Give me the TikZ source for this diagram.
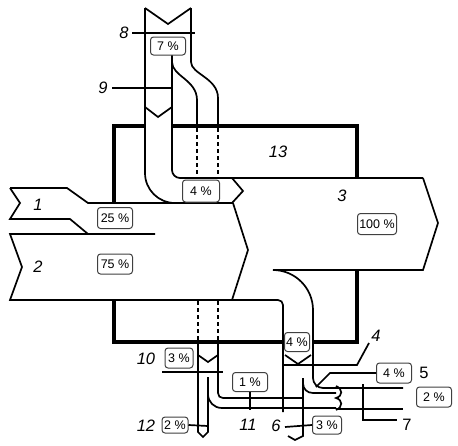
\documentclass[tikz,border=0pt]{standalone}
\usepackage{fontspec}
\setmainfont{Liberation Sans}
\begin{document}
\begin{tikzpicture}[x=1pt,y=-1pt,
  flow/.style={line width=1.7pt, line join=miter},
  wall/.style={line width=4pt, line join=miter},
  dashline/.style={line width=1.1pt, dash pattern=on 4pt off 3pt},
  pct/.style={draw=black!75, rounded corners=3pt, fill=white, line width=1pt,
    font=\fontsize{12.5}{12.5}\selectfont, inner sep=0pt},
  num/.style={font=\fontsize{16.5}{16.5}\selectfont\itshape},
  numu/.style={font=\fontsize{16.5}{16.5}\selectfont}
]
\useasboundingbox (0,0) rectangle (458,445);

% system boundary 13
\draw[wall] (114,203) -- (114,126) -- (145,126);
\draw[wall] (172,126) -- (357,126) -- (357,178);
\draw[wall] (357,270) -- (357,342) -- (313,342);
\draw[wall] (283,342) -- (114,342) -- (114,300);

% flow 1
\draw[flow] (10,188) -- (67,188) -- (88,203) -- (233,203);
\draw[flow] (10,188) -- (20,203) -- (10,219) -- (70,219) -- (88,234);
% flow 2
\draw[flow] (155,234) -- (10,234) -- (22,267) -- (10,300) -- (278,300)
  .. controls (280.8,300) and (283,302.2) .. (283,305) -- (283,412);
% combined tip
\draw[flow] (233,203) -- (248,250) -- (232,300);

% flow 8 / 9 / 4 % return
\draw[flow] (145,8) -- (168,24) -- (191,8);
\draw[flow] (145,8) -- (145,173) .. controls (145,189.6) and (158.4,203) .. (175,203);
\draw[flow] (172,55) -- (172,170) .. controls (172,174.4) and (175.6,178) .. (180,178) -- (423,178);
\draw[flow] (232,178) -- (243,191) -- (232,203);
\draw[flow] (172,62) .. controls (172,76) and (197,80) .. (197,100) -- (197,126);
\draw[flow] (191,8) -- (191,62) .. controls (191,74) and (218,78) .. (218,98) -- (218,126);
\draw[flow] (145,107) -- (158,117) -- (172,107);
\draw[dashline] (197,128) -- (197,177);
\draw[dashline] (218,128) -- (218,177);

% flow 3
\draw[flow] (423,178) -- (438,223) -- (423,270) -- (273,270)
  .. controls (295,270) and (313,288) .. (313,310) -- (313,378)
  .. controls (313,383.5) and (317.5,388) .. (323,388) -- (403,388);

% flows 10, 11, 12
\draw[dashline] (198,301) -- (198,340);
\draw[dashline] (218,301) -- (218,340);
\draw[flow] (198,342) -- (198,432) -- (203,437) -- (208,432) -- (208,377);
\draw[flow] (198,355) -- (208,362) -- (218,355);
\draw[flow] (218,342) -- (218,393) .. controls (218,396) and (220,398) .. (223,398) -- (303,398);
\draw[flow] (208,394) .. controls (208,402) and (214,408) .. (222,408) -- (336,408);

% outflow 4 and branches 5, 6, 7
\draw[flow] (285,355) -- (298,364) -- (311,355);
\draw[flow] (303,378) -- (303,436) -- (295,440) -- (288,436);
\draw[flow] (303,383) .. controls (303,389) and (307,393) .. (313,393) -- (336,393);
\draw[flow] (336,386) .. controls (343,389) and (343,396) .. (336,398)
  .. controls (343,400) and (343,407) .. (336,410);
\draw[flow] (336,409) -- (403,409);

% boxes
\node[pct, minimum width=35pt, minimum height=18pt] (b7) at (168,46) {7 \%};
\node[pct, minimum width=35pt, minimum height=21pt] (b25) at (115,218) {25 \%};
\node[pct, minimum width=35pt, minimum height=20pt] (b75) at (115,264) {75 \%};
\node[pct, minimum width=37pt, minimum height=22pt] (b4a) at (201,191) {4 \%};
\node[pct, minimum width=39pt, minimum height=21pt] (b100) at (377,224) {100 \%};
\node[pct, minimum width=28pt, minimum height=20pt] (b3) at (179,358) {3 \%};
\node[pct, minimum width=26pt, minimum height=16pt] (b2) at (175,425) {2 \%};
\node[pct, minimum width=35pt, minimum height=19pt] (b1) at (250,382) {1 \%};
\node[pct, minimum width=25pt, minimum height=19pt] (b4b) at (297,342) {4 \%};
\node[pct, minimum width=35pt, minimum height=20pt] (b4c) at (394,373) {4 \%};
\node[pct, minimum width=35pt, minimum height=20pt] (b2b) at (434,397) {2 \%};
\node[pct, minimum width=29pt, minimum height=18pt] (b3b) at (327,425) {3 \%};

% labels
\node[num] (l8) at (124,33) {8};
\node[num] (l9) at (103,88) {9};
\node[num] (l1) at (38,205) {1};
\node[num] (l2) at (38,267) {2};
\node[num] (l3) at (342,196) {3};
\node[num] (l13) at (278,152) {13};
\node[num] (l4) at (376,336) {4};
\node[numu] (l5) at (424,373) {5};
\node[num] (l10) at (146,359) {10};
\node[num] (l11) at (248,425) {11};
\node[num] (l12) at (146,426) {12};
\node[num] (l6) at (276,426) {6};
\node[numu] (l7) at (407,425) {7};

% leader lines
\coordinate (e8) at (195,33);
\coordinate (e9) at (173,88);
\coordinate (e10) at (223,372);
\coordinate (e12) at (208,426);
\coordinate (e11) at (250,410);
\coordinate (e4) at (283,365);
\coordinate (e5) at (316,387);
\coordinate (e7) at (363,384);
\draw[flow] (132,33) -- (e8);
\draw[flow] (112,88) -- (e9);
\draw[flow] (162,372) -- (e10);
\draw[flow] (b2.east) -- (e12);
\draw[flow] (b1.south) -- (e11);
\draw[flow] (369,343) -- (357,365) -- (e4);
\draw[flow] (b4c.west) -- (330,373) -- (e5);
\draw[flow] (e7) -- (363,420) -- (397,420);
\draw[flow] (285,427) -- (b3b.west);
\end{tikzpicture}
\end{document}
